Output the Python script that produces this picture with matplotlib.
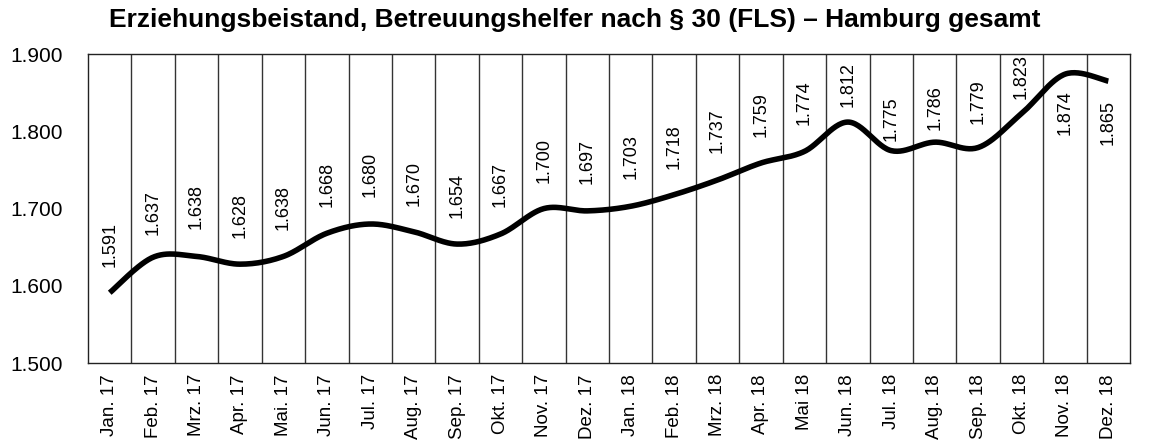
import numpy as np
import matplotlib
matplotlib.use("Agg")
import matplotlib.pyplot as plt

plt.rcParams['font.family'] = ['Liberation Sans', 'DejaVu Sans']

months = ["Jan. 17", "Feb. 17", "Mrz. 17", "Apr. 17", "Mai. 17", "Jun. 17",
          "Jul. 17", "Aug. 17", "Sep. 17", "Okt. 17", "Nov. 17", "Dez. 17",
          "Jan. 18", "Feb. 18", "Mrz. 18", "Apr. 18", "Mai 18", "Jun. 18",
          "Jul. 18", "Aug. 18", "Sep. 18", "Okt. 18", "Nov. 18", "Dez. 18"]
values = [1591, 1637, 1638, 1628, 1638, 1668, 1680, 1670, 1654, 1667, 1700, 1697,
          1703, 1718, 1737, 1759, 1774, 1812, 1775, 1786, 1779, 1823, 1874, 1865]
yticks = [1500, 1600, 1700, 1800, 1900]

# label offsets from the point in pixels (negative = below the line)
label_off = [26, 22, 27, 26, 26, 26, 27, 26, 26, 27, 26, 27,
             27, 26, 27, 26, 26, 15, 10, 12, 24, 15, -16, -19]


def fmt_de(v):
    return f"{v:,}".replace(",", ".")


# smooth line like Excel (Catmull-Rom between the points)
def smooth(x, y, steps=30):
    x = np.asarray(x, float)
    y = np.asarray(y, float)
    px = np.concatenate([[x[0]], x, [x[-1]]])
    py = np.concatenate([[y[0]], y, [y[-1]]])
    xs, ys = [], []
    t = np.linspace(0, 1, steps)
    for i in range(1, len(px) - 2):
        p0, p1, p2, p3 = py[i - 1], py[i], py[i + 1], py[i + 2]
        q0, q1, q2, q3 = px[i - 1], px[i], px[i + 1], px[i + 2]
        ys.append(0.5 * ((2 * p1) + (-p0 + p2) * t + (2 * p0 - 5 * p1 + 4 * p2 - p3) * t**2
                         + (-p0 + 3 * p1 - 3 * p2 + p3) * t**3))
        xs.append(0.5 * ((2 * q1) + (-q0 + q2) * t + (2 * q0 - 5 * q1 + 4 * q2 - q3) * t**2
                         + (-q0 + 3 * q1 - 3 * q2 + q3) * t**3))
    return np.concatenate(xs), np.concatenate(ys)


fig = plt.figure(figsize=(11.49, 4.40), dpi=100)
ax = fig.add_axes([0.0766, 0.175, 0.9069, 0.702])

x = np.arange(len(values))
sx, sy = smooth(x, values)
ax.plot(sx, sy, color="black", lw=4, solid_capstyle="butt", zorder=3)

for i, v in enumerate(values):
    off = label_off[i] * 72 / 100
    ax.annotate(fmt_de(v), (i, v), xytext=(0, off), textcoords="offset points",
                rotation=90, ha="center", va="bottom" if off > 0 else "top",
                fontsize=13)

for b in np.arange(0.5, len(values) - 0.5):
    ax.axvline(b, color="#333333", lw=1, zorder=1)

ax.set_xlim(-0.5, len(values) - 0.5)
ax.set_ylim(1500, 1900)
ax.set_yticks(yticks)
ax.set_yticklabels([fmt_de(v) for v in yticks], fontsize=15)
ax.set_xticks(x)
ax.set_xticklabels(months, rotation=90, fontsize=13.5)
ax.tick_params(axis="both", length=0)
ax.tick_params(axis="y", pad=18)
ax.tick_params(axis="x", pad=8)
for s in ax.spines.values():
    s.set_color("#222222")
    s.set_linewidth(1)

fig.text(0.5, 0.955, "Erziehungsbeistand, Betreuungshelfer nach § 30 (FLS) – Hamburg gesamt",
         ha="center", va="center", fontsize=19, fontweight="bold")

fig.savefig("out.png", dpi=100)
